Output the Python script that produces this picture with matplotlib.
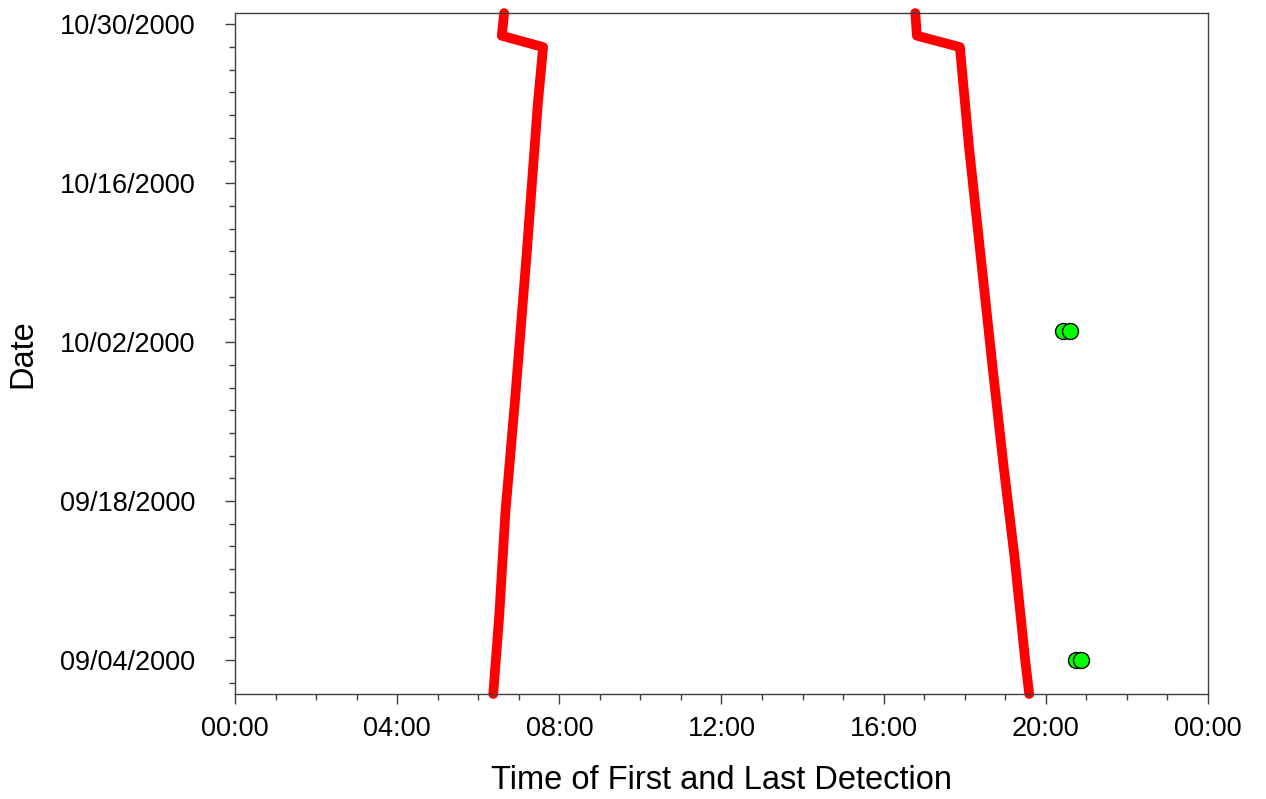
import datetime as dt
import matplotlib
matplotlib.use("Agg")
import matplotlib.pyplot as plt
import matplotlib.dates as mdates
from matplotlib.ticker import MultipleLocator

plt.rcParams['font.family'] = ['Liberation Sans', 'DejaVu Sans']

# first detection (sunrise-like) line: date, hour of day
first_dates = ["2000-09-01", "2000-09-08", "2000-09-17", "2000-09-27", "2000-10-10",
               "2000-10-23", "2000-10-28", "2000-10-29", "2000-10-31"]
first_hours = [6.37, 6.52, 6.67, 6.91, 7.20, 7.47, 7.60, 6.58, 6.64]

# last detection (sunset-like) line
last_dates = ["2000-09-01", "2000-09-04", "2000-09-13", "2000-09-21", "2000-09-30",
              "2000-10-11", "2000-10-19", "2000-10-28", "2000-10-29", "2000-10-31"]
last_hours = [19.59, 19.49, 19.23, 18.96, 18.68, 18.35, 18.11, 17.88, 16.82, 16.78]

# individual detections
det_dates = ["2000-10-03", "2000-10-03", "2000-09-04", "2000-09-04"]
det_hours = [20.42, 20.60, 20.74, 20.87]

tick_dates = ["2000-09-04", "2000-09-18", "2000-10-02", "2000-10-16", "2000-10-30"]
x_labels = ["00:00", "04:00", "08:00", "12:00", "16:00", "20:00", "00:00"]


def to_dates(lst):
    return [dt.datetime.strptime(s, "%Y-%m-%d") for s in lst]


fig = plt.figure(figsize=(12.66, 7.99), dpi=100)
ax = fig.add_axes([0.1856, 0.1314, 0.7686, 0.8523])

ax.plot(first_hours, to_dates(first_dates), color='red', lw=7,
        solid_capstyle='round', solid_joinstyle='round', clip_on=False, zorder=2)
ax.plot(last_hours, to_dates(last_dates), color='red', lw=7,
        solid_capstyle='round', solid_joinstyle='round', clip_on=False, zorder=2)
ax.plot(det_hours, to_dates(det_dates), 'o', ms=11.5, mfc='#00ff00',
        mec='black', mew=1.0, ls='none', zorder=3)

ax.set_xlim(0, 24)
ax.set_xticks(range(0, 25, 4))
ax.set_xticklabels(x_labels)
ax.xaxis.set_minor_locator(MultipleLocator(1))

ax.set_ylim(dt.datetime(2000, 9, 1), dt.datetime(2000, 10, 31))
ax.set_yticks(to_dates(tick_dates))
ax.yaxis.set_major_formatter(mdates.DateFormatter("%m/%d/%Y"))
ax.yaxis.set_minor_locator(mdates.DayLocator(bymonthday=range(2, 32, 2)))

for s in ax.spines.values():
    s.set_color('#404040')
    s.set_linewidth(1.0)
ax.tick_params(which='major', length=7.5, width=1, color='#404040',
               labelsize=19.5)
ax.tick_params(axis='x', which='major', pad=8)
ax.tick_params(axis='y', which='major', pad=21)
ax.tick_params(which='minor', length=4.5, width=1, color='#404040')

ax.set_xlabel("Time of First and Last Detection", fontsize=23.5, labelpad=17)
ax.set_ylabel("Date", fontsize=23.5, labelpad=15)

fig.savefig("out.png", dpi=100)
